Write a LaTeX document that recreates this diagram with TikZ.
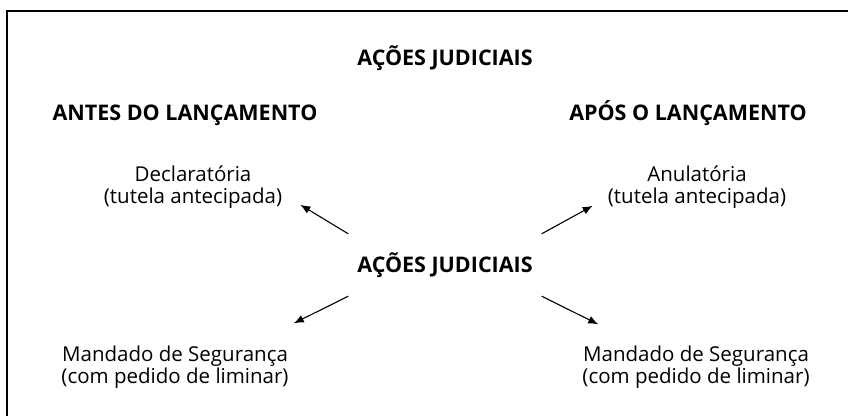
\documentclass[tikz,border=0pt]{standalone}
\usepackage{fontspec}
\setmainfont{Open Sans}
\usepackage{tikz}
\usetikzlibrary{arrows.meta}

\begin{document}
\begin{tikzpicture}[x=1pt,y=-1pt,
  titulo/.style={font=\bfseries\fontsize{21.5}{22}\selectfont, inner sep=0pt, anchor=base},
  acao/.style={font=\fontsize{20.5}{22.5}\selectfont, align=center, inner sep=0pt},
  seta/.style={-{Latex[length=10pt,width=8pt]}, line width=1.1pt}]
\useasboundingbox (0,0) rectangle (848,416);
\draw[line width=1.6pt] (7,416) -- (7,11) -- (848,11);

\node (topo) at (445,65) [titulo] {AÇÕES JUDICIAIS};
\node (antes) at (185,120) [titulo] {ANTES DO LANÇAMENTO};
\node (apos) at (688,120) [titulo] {APÓS O LANÇAMENTO};

\node (centro) at (445,265) [font=\bfseries\fontsize{21.5}{22}\selectfont, minimum width=193pt, minimum height=62pt] {AÇÕES JUDICIAIS};

	\node (decl) at (193,187) [acao] {Declaratória\\(tutela antecipada)};
	\node (anul) at (697,187) [acao] {Anulatória\\(tutela antecipada)};
	\node (mand1) at (175,367) [acao] {Mandado de Segurança\\(com pedido de liminar)};
	\node (mand2) at (696,367) [acao] {Mandado de Segurança\\(com pedido de liminar)};

\draw[seta] (centro.north west) -- ([xshift=18pt,yshift=4pt]decl.south east);
\draw[seta] (centro.north east) -- ([xshift=-15pt,yshift=3pt]anul.south west);
\draw[seta] (centro.south west) -- ([xshift=5pt,yshift=22pt]mand1.north east);
\draw[seta] (centro.south east) -- ([xshift=16pt,yshift=21pt]mand2.north west);
\end{tikzpicture}
\end{document}
